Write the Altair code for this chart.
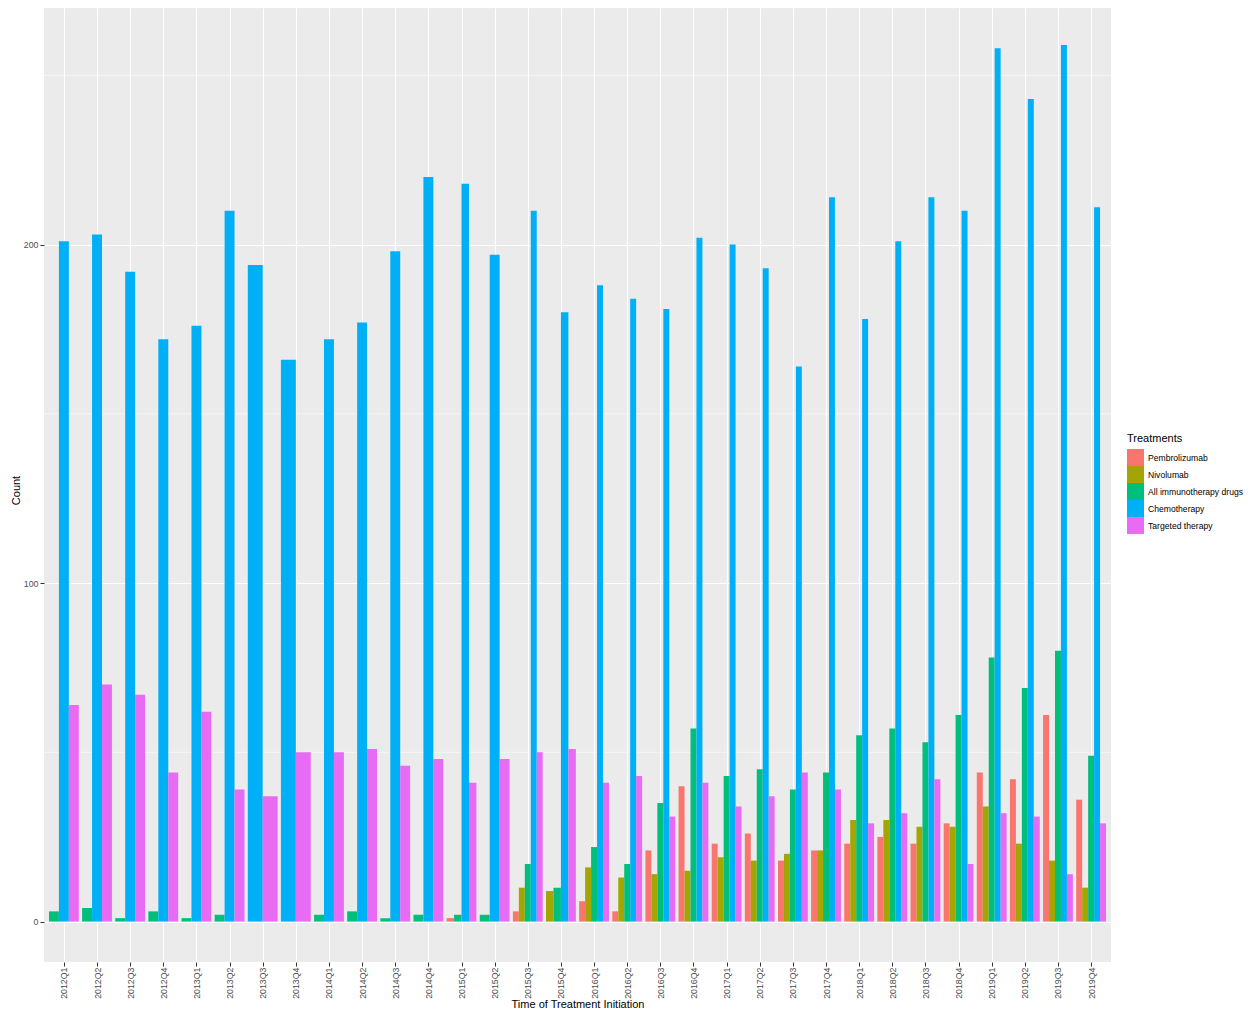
import altair as alt
import pandas as pd

quarters = ["2012Q1", "2012Q2", "2012Q3", "2012Q4", "2013Q1", "2013Q2", "2013Q3", "2013Q4",
            "2014Q1", "2014Q2", "2014Q3", "2014Q4", "2015Q1", "2015Q2", "2015Q3", "2015Q4",
            "2016Q1", "2016Q2", "2016Q3", "2016Q4", "2017Q1", "2017Q2", "2017Q3", "2017Q4",
            "2018Q1", "2018Q2", "2018Q3", "2018Q4", "2019Q1", "2019Q2", "2019Q3", "2019Q4"]

treatments = ["Pembrolizumab", "Nivolumab", "All immunotherapy drugs", "Chemotherapy", "Targeted therapy"]
colors = ["#F8766D", "#A3A500", "#00BF7D", "#00B0F6", "#E76BF3"]

pembrolizumab = [0, 0, 0, 0, 0, 0, 0, 0, 0, 0, 0, 0, 1, 0, 3, 0,
                 6, 3, 21, 40, 23, 26, 18, 21, 23, 25, 23, 29, 44, 42, 61, 36]
nivolumab = [0, 0, 0, 0, 0, 0, 0, 0, 0, 0, 0, 0, 0, 0, 10, 9,
             16, 13, 14, 15, 19, 18, 20, 21, 30, 30, 28, 28, 34, 23, 18, 10]
all_immuno = [3, 4, 1, 3, 1, 2, 0, 0, 2, 3, 1, 2, 2, 2, 17, 10,
              22, 17, 35, 57, 43, 45, 39, 44, 55, 57, 53, 61, 78, 69, 80, 49]
chemotherapy = [201, 203, 192, 172, 176, 210, 194, 166, 172, 177, 198, 220, 218, 197, 210, 180,
                188, 184, 181, 202, 200, 193, 164, 214, 178, 201, 214, 210, 258, 243, 259, 211]
targeted = [64, 70, 67, 44, 62, 39, 37, 50, 50, 51, 46, 48, 41, 48, 50, 51,
            41, 43, 31, 41, 34, 37, 44, 39, 29, 32, 42, 17, 32, 31, 14, 29]

series = [pembrolizumab, nivolumab, all_immuno, chemotherapy, targeted]

rows = []
for order, (t, vals) in enumerate(zip(treatments, series)):
    for i, q in enumerate(quarters):
        rows.append({"quarter": q, "idx": i, "treatment": t, "order": order, "count": vals[i]})
df = pd.DataFrame(rows)

FONT = "Liberation Sans"
W, H = 1067, 954
label_array = "[" + ",".join("'" + q + "'" for q in quarters) + "]"

bars = alt.Chart(df).transform_filter(
    alt.datum["count"] > 0
).transform_window(
    k="row_number()", groupby=["idx"], sort=[alt.SortField("order")]
).transform_joinaggregate(
    n="count()", groupby=["idx"]
).transform_calculate(
    x0="datum.idx - 0.45 + (datum.k - 1) * 0.9 / datum.n",
    x1="datum.idx - 0.45 + datum.k * 0.9 / datum.n",
).mark_bar(strokeWidth=0).encode(
    x=alt.X("x0:Q",
            scale=alt.Scale(domain=[-0.6, 31.6], nice=False, zero=False),
            axis=alt.Axis(values=list(range(len(quarters))),
                          labelExpr=label_array + "[datum.value]",
                          labelAngle=270, labelAlign="right", labelBaseline="middle",
                          labelPadding=1,
                          title="Time of Treatment Initiation", titlePadding=0)),
    x2="x1:Q",
    y=alt.Y("count:Q",
            scale=alt.Scale(domain=[-11.96, 269.9], nice=False, zero=False),
            axis=alt.Axis(values=[0, 100, 200], title="Count",
                          titleX=-28, titleY=482, titleBaseline="middle")),
    y2=alt.datum(0),
    color=alt.Color("treatment:N",
                    scale=alt.Scale(domain=treatments, range=colors),
                    legend=alt.Legend(title="Treatments", orient="none",
                                      legendX=1083, legendY=425,
                                      symbolType="square", symbolSize=289,
                                      symbolStrokeWidth=0, symbolOpacity=1,
                                      rowPadding=0, labelOffset=4,
                                      titlePadding=5)),
)

minor_df = pd.DataFrame({"y": [50, 150, 250]})
minor = alt.Chart(minor_df).mark_rule(color="white", strokeWidth=0.55).encode(y="y:Q")

chart = alt.layer(minor, bars).properties(
    width=W, height=H,
    autosize=alt.AutoSizeParams(type="none"),
    padding={"left": 36, "top": 0, "right": 136, "bottom": 48},
).configure(
    font=FONT,
    background="white",
).configure_view(
    fill="#EBEBEB", stroke=None,
).configure_axis(
    grid=True, gridColor="white", gridWidth=1.1,
    domain=False, tickColor="#333333", tickSize=4, tickWidth=1,
    labelColor="#4D4D4D", labelFontSize=8.8, labelFont=FONT, labelPadding=2,
    titleColor="black", titleFontSize=11, titleFont=FONT, titleFontWeight="normal",
).configure_legend(
    titleFontSize=11, titleFontWeight="normal", titleColor="black", titleFont=FONT,
    labelFontSize=8.6, labelColor="black", labelFont=FONT,
)

chart.save("out.html", embed_options={"renderer": "svg", "actions": False})
